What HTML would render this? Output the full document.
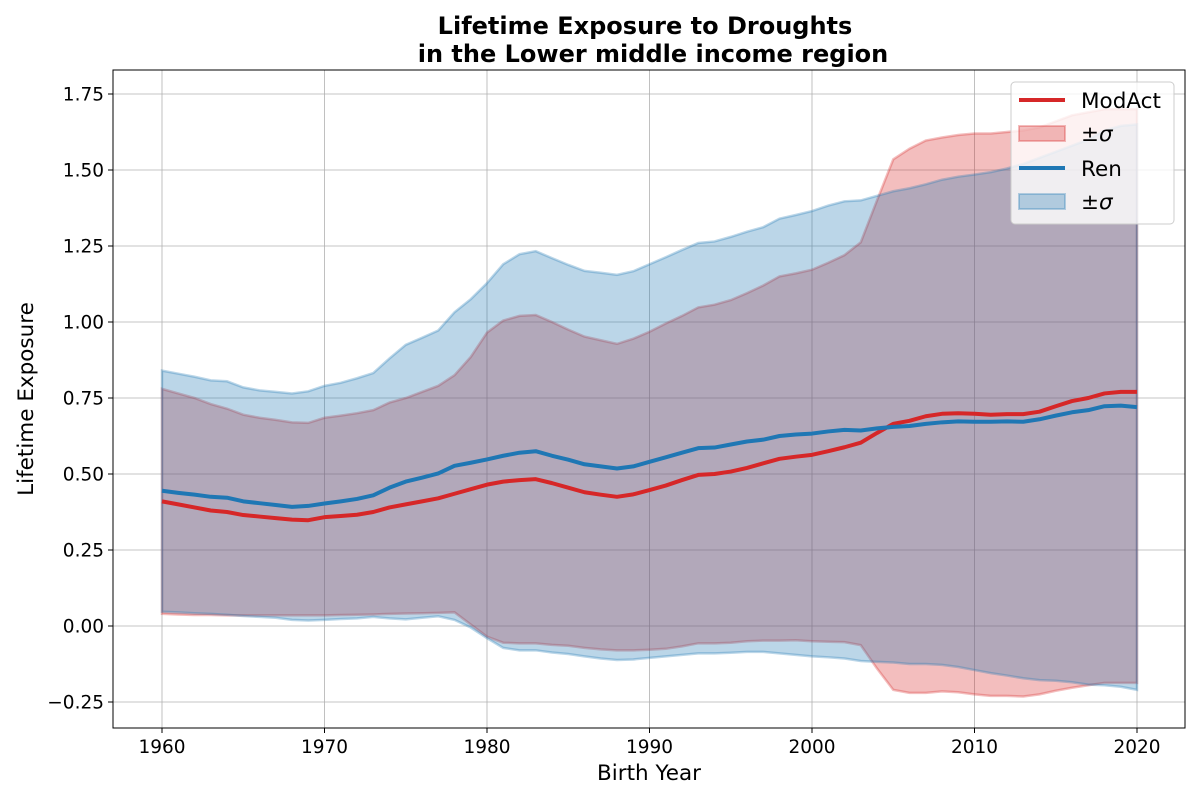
<!DOCTYPE html>
<html><head><meta charset="utf-8"><style>
body{margin:0;background:#fff;}
svg text{font-family:"DejaVu Sans","Liberation Sans",sans-serif;}
</style></head><body>
<svg id="chart" width="1200" height="800" xmlns="http://www.w3.org/2000/svg">
<rect width="1200" height="800" fill="#fff"/>
<g id="grid"></g>
<g id="series"></g>
<rect x="113" y="70" width="1072" height="658" fill="none" stroke="#000" stroke-width="1"/>
<g id="axes"></g>
<text x="645" y="34" text-anchor="middle" font-size="24" font-weight="bold">Lifetime Exposure to Droughts</text>
<text x="653" y="62" text-anchor="middle" font-size="24" font-weight="bold">in the Lower middle income region</text>
<text x="649" y="780" text-anchor="middle" font-size="21.5">Birth Year</text>
<text transform="translate(33,399) rotate(-90)" text-anchor="middle" font-size="21.5">Lifetime Exposure</text>
<g>
<rect x="1011" y="82" width="163" height="142" rx="4" fill="#fff" fill-opacity="0.8" stroke="#ccc"/>
<line x1="1019" y1="100" x2="1065" y2="100" stroke="#d62728" stroke-width="4"/>
<text x="1081" y="108" font-size="21.5">ModAct</text>
<rect x="1019" y="126" width="46" height="15" fill="#d62728" fill-opacity="0.3" stroke="#d62728" stroke-opacity="0.3" stroke-width="2"/>
<text x="1081" y="141" font-size="21.5">±<tspan font-style="italic">σ</tspan></text>
<line x1="1019" y1="168" x2="1065" y2="168" stroke="#1f77b4" stroke-width="4"/>
<text x="1081" y="176" font-size="21.5">Ren</text>
<rect x="1019" y="194" width="46" height="15" fill="#1f77b4" fill-opacity="0.3" stroke="#1f77b4" stroke-opacity="0.3" stroke-width="2"/>
<text x="1081" y="209" font-size="21.5">±<tspan font-style="italic">σ</tspan></text>
</g>
</svg>
<script>
const years = Array.from({length:61},(_,i)=>1960+i);
const modMean=[.41,.40,.39,.38,.375,.365,.36,.355,.35,.348,.358,.362,.366,.375,.39,.40,.41,.42,.435,.45,.465,.475,.48,.483,.47,.455,.44,.432,.425,.433,.447,.462,.48,.497,.50,.508,.52,.535,.55,.557,.563,.575,.588,.603,.635,.665,.675,.69,.698,.70,.698,.695,.697,.697,.705,.723,.74,.75,.765,.77,.77];
const modUpper=[.78,.765,.75,.73,.715,.695,.685,.678,.67,.668,.685,.692,.70,.71,.735,.75,.77,.79,.825,.885,.965,1.005,1.02,1.023,1.00,.975,.952,.94,.928,.945,.968,.995,1.02,1.048,1.057,1.072,1.095,1.12,1.15,1.16,1.172,1.195,1.22,1.262,1.40,1.535,1.57,1.597,1.607,1.615,1.62,1.62,1.625,1.63,1.64,1.66,1.68,1.69,1.70,1.70,1.70];
const modLower=[.04,.038,.036,.036,.035,.035,.035,.035,.035,.035,.035,.036,.037,.038,.04,.041,.042,.043,.045,.005,-.035,-.055,-.057,-.057,-.062,-.065,-.072,-.077,-.08,-.08,-.078,-.075,-.067,-.057,-.057,-.055,-.05,-.048,-.048,-.047,-.05,-.052,-.053,-.063,-.14,-.21,-.22,-.22,-.215,-.218,-.225,-.23,-.23,-.232,-.225,-.213,-.203,-.195,-.187,-.187,-.187];
const renMean=[.445,.438,.432,.425,.422,.41,.404,.398,.392,.395,.403,.41,.418,.43,.455,.475,.488,.502,.527,.537,.548,.56,.57,.575,.56,.547,.532,.525,.518,.525,.54,.555,.57,.585,.587,.597,.607,.613,.625,.63,.633,.64,.645,.643,.65,.655,.658,.665,.67,.673,.672,.672,.673,.672,.68,.692,.703,.71,.723,.725,.72];
const renUpper=[.84,.83,.82,.808,.805,.785,.775,.77,.765,.772,.79,.80,.815,.832,.88,.925,.948,.972,1.032,1.075,1.128,1.19,1.223,1.233,1.21,1.188,1.168,1.162,1.155,1.167,1.19,1.213,1.237,1.26,1.265,1.28,1.297,1.312,1.34,1.352,1.365,1.383,1.397,1.40,1.415,1.43,1.44,1.453,1.468,1.478,1.485,1.493,1.505,1.52,1.54,1.56,1.58,1.60,1.63,1.645,1.65];
const renLower=[.047,.045,.042,.04,.037,.033,.03,.027,.02,.018,.02,.023,.025,.03,.025,.022,.027,.032,.02,-.005,-.04,-.072,-.08,-.08,-.087,-.092,-.1,-.107,-.112,-.11,-.105,-.1,-.095,-.09,-.09,-.088,-.085,-.085,-.09,-.095,-.1,-.103,-.107,-.115,-.118,-.12,-.125,-.125,-.128,-.135,-.145,-.155,-.163,-.172,-.178,-.18,-.185,-.193,-.195,-.2,-.21];
const xTicks=[1960,1970,1980,1990,2000,2010,2020];
const yTicks=[-0.25,0,0.25,0.5,0.75,1,1.25,1.5,1.75];
const yTickLabels=["\u22120.25","0.00","0.25","0.50","0.75","1.00","1.25","1.50","1.75"];

const X=v=>162+(v-1960)*16.25;
const Y=v=>626-v*304;
const NS='http://www.w3.org/2000/svg';
function mk(tag,attrs,parent){const e=document.createElementNS(NS,tag);for(const k in attrs)e.setAttribute(k,attrs[k]);parent.appendChild(e);return e;}
const grid=document.getElementById('grid'),axes=document.getElementById('axes'),ser=document.getElementById('series');
xTicks.forEach(t=>{
  const g=mk('line',{x1:X(t),x2:X(t),y1:70,y2:728,stroke:'#b0b0b0','stroke-width':0.8},grid);
  
  
  mk('line',{x1:X(t),x2:X(t),y1:728,y2:733,stroke:'#000'},axes);
  const tx=mk('text',{x:X(t),y:753,'text-anchor':'middle','font-size':18.5},axes);
  tx.textContent=t;
  
  
});
yTicks.forEach((t,i)=>{
  const g=mk('line',{x1:113,x2:1185,y1:Y(t),y2:Y(t),stroke:'#b0b0b0','stroke-width':0.8},grid);
  
  
  mk('line',{x1:108,x2:113,y1:Y(t),y2:Y(t),stroke:'#000'},axes);
  const tx=mk('text',{x:104,y:Y(t)+6.5,'text-anchor':'end','font-size':18.5},axes);
  tx.textContent=yTickLabels[i];
  
  
});
function band(up,lo,color,name){
  let pts=years.map((y,i)=>X(y)+','+Y(up[i]));
  pts=pts.concat(years.map((y,i)=>X(y)+','+Y(lo[i])).reverse());
  const p=mk('polygon',{points:pts.join(' '),fill:color,'fill-opacity':0.3,stroke:color,'stroke-opacity':0.3,'stroke-width':2.5},ser);
  
  
}
function line(vals,color,name){
  const p=mk('polyline',{points:years.map((y,i)=>X(y)+','+Y(vals[i])).join(' '),fill:'none',stroke:color,'stroke-width':4,'stroke-linejoin':'round'},ser);
  
  
}
band(modUpper,modLower,'#d62728','modact-sigma-band');
band(renUpper,renLower,'#1f77b4','ren-sigma-band');
line(modMean,'#d62728','modact-line');
line(renMean,'#1f77b4','ren-line');
</script>
</body></html>
